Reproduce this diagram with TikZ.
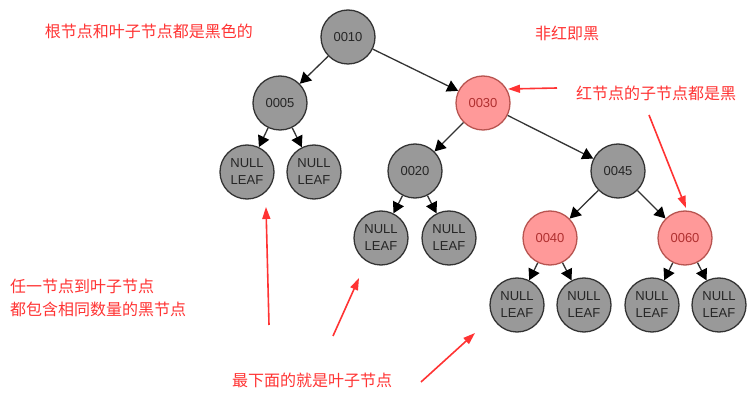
\documentclass[tikz,border=0pt]{standalone}
\usepackage{fontspec}
\setmainfont{Liberation Sans}
\newfontfamily\cjk{Noto Sans CJK SC}
\usetikzlibrary{arrows.meta,calc}
\definecolor{nodegray}{HTML}{999999}
\definecolor{nodeedge}{HTML}{333333}
\definecolor{redfill}{HTML}{FF9999}
\definecolor{rededge}{HTML}{B85450}
\definecolor{redtext}{HTML}{B03030}
\definecolor{annot}{HTML}{FF3333}
\begin{document}
\begin{tikzpicture}[x=1pt,y=-1pt,
 blk/.style={circle, draw=nodeedge, fill=nodegray, line width=1.3pt, minimum size=54pt, inner sep=0pt, font=\fontsize{13}{17}\selectfont, text=black!85, align=center},
 rd/.style={blk, draw=rededge, fill=redfill, text=redtext},
 edge/.style={draw=nodeedge, line width=1.3pt, -{Triangle[length=11pt,width=12pt,color=black]}},
 note/.style={text=annot, font=\cjk\fontsize{16}{23}\selectfont, inner sep=0pt},
 ann/.style={draw=annot, line width=1.6pt, -{Triangle[length=12pt,width=8pt]}}]
\useasboundingbox (0,0) rectangle (756,414);
% tree nodes
\node[blk] (n10) at (348,37) {0010};
\node[blk] (n5) at (280,103) {0005};
\node[rd] (n30) at (483,103) {0030};
\node[blk] (l1) at (247,172) {NULL\\LEAF};
\node[blk] (l2) at (314,172) {NULL\\LEAF};
\node[blk] (n20) at (415,171) {0020};
\node[blk] (n45) at (618,171) {0045};
\node[blk] (l3) at (381,238) {NULL\\LEAF};
\node[blk] (l4) at (449,238) {NULL\\LEAF};
\node[rd] (n40) at (550,238) {0040};
\node[rd] (n60) at (685,238) {0060};
\node[blk] (l5) at (517,305) {NULL\\LEAF};
\node[blk] (l6) at (584,305) {NULL\\LEAF};
\node[blk] (l7) at (652,305) {NULL\\LEAF};
\node[blk] (l8) at (719,305) {NULL\\LEAF};
% edges
\draw[edge] (n10) -- (n5);
\draw[edge] (n10) -- (n30);
\draw[edge] (n5) -- (l1);
\draw[edge] (n5) -- (l2);
\draw[edge] (n30) -- (n20);
\draw[edge] (n30) -- (n45);
\draw[edge] (n20) -- (l3);
\draw[edge] (n20) -- (l4);
\draw[edge] (n45) -- (n40);
\draw[edge] (n45) -- (n60);
\draw[edge] (n40) -- (l5);
\draw[edge] (n40) -- (l6);
\draw[edge] (n60) -- (l7);
\draw[edge] (n60) -- (l8);
% annotations
\node[note] (t1) at (149,31) {根节点和叶子节点都是黑色的};
\node[note] (t2) at (567,33) {非红即黑};
\node[note] (t3) at (656,93) {红节点的子节点都是黑};
\node[note, anchor=west, align=left] (t4) at (10,298) {任一节点到叶子节点\\都包含相同数量的黑节点};
\node[note] (t5) at (312,380) {最下面的就是叶子节点};
% red arrows
\coordinate (a1s) at (557,88);
\coordinate (a1e) at (508,89);
\coordinate (a2s) at (649,115);
\coordinate (a2e) at (686,208);
\coordinate (a3s) at (269,325);
\coordinate (a3e) at (266,207);
\coordinate (a4s) at (333,336);
\coordinate (a4e) at (359,278);
\coordinate (a5s) at (421,382);
\coordinate (a5e) at (475,333);
\draw[ann] (a1s) -- (a1e);
\draw[ann] (a2s) -- (a2e);
\draw[ann] (a3s) -- (a3e);
\draw[ann] (a4s) -- (a4e);
\draw[ann] (a5s) -- (a5e);
\end{tikzpicture}
\end{document}
